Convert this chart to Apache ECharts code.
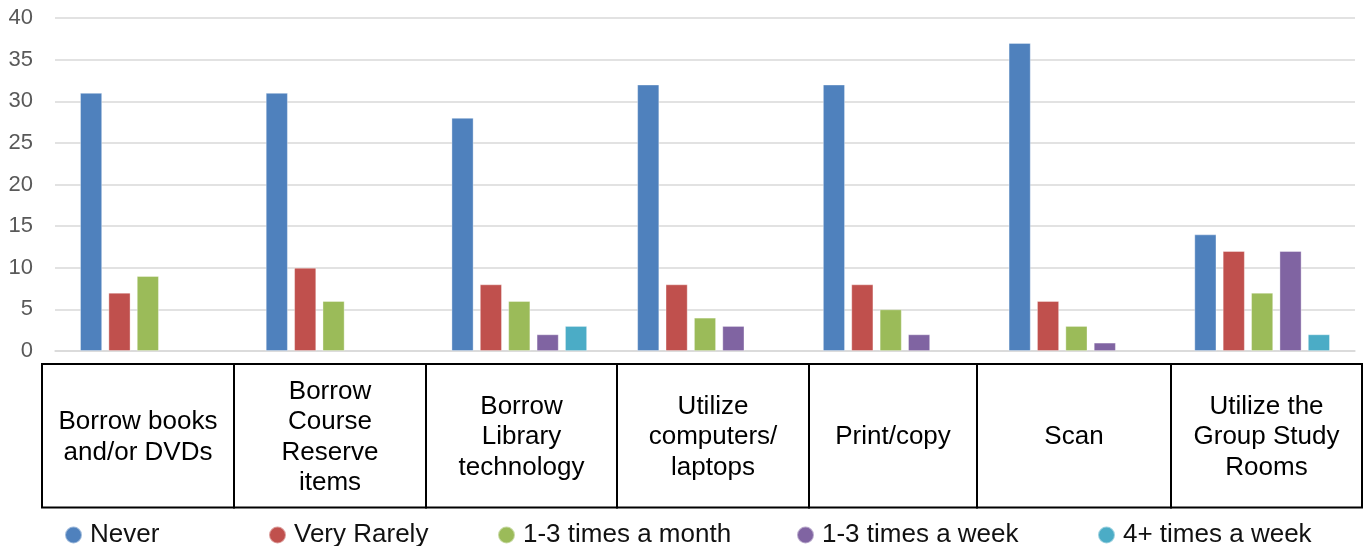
<!DOCTYPE html>
<html>
<head>
<meta charset="utf-8">
<script src="https://cdn.jsdelivr.net/npm/echarts@6/dist/echarts.min.js"></script>
<style>
  html, body { margin: 0; padding: 0; background: #fff; }
  #chart { width: 1370px; height: 546px; }
</style>
</head>
<body>
<div id="chart"></div>
<script>
// Library service usage survey: number of responses per frequency
const categories = [
  'Borrow books\nand/or DVDs',
  'Borrow\nCourse\nReserve\nitems',
  'Borrow\nLibrary\ntechnology',
  'Utilize\ncomputers/\nlaptops',
  'Print/copy',
  'Scan',
  'Utilize the\nGroup Study\nRooms'
];
const seriesNames = ['Never', 'Very Rarely', '1-3 times a month', '1-3 times a week', '4+ times a week'];
const never        = [31, 31, 28, 32, 32, 37, 14];
const veryRarely   = [7, 10, 8, 8, 8, 6, 12];
const timesMonth   = [9, 6, 6, 4, 5, 3, 7];
const timesWeek    = [0, 0, 2, 3, 2, 1, 12];
const fourPlusWeek = [0, 0, 3, 0, 0, 0, 2];
const yTicks = [0, 5, 10, 15, 20, 25, 30, 35, 40];

const seriesData = [never, veryRarely, timesMonth, timesWeek, fourPlusWeek];
const colors = ['#4F81BD', '#C0504D', '#9BBB59', '#8064A2', '#4BACC6'];

// Layout of the category table under the plot
const tableEdges = [42, 234, 426, 617, 809, 977, 1171, 1362];
const tableTop = 364, tableBottom = 507.5;
const legendLefts = [64, 268, 497, 796, 1097];
const FONT = '"Liberation Sans", Arial, sans-serif';

const chart = echarts.init(document.getElementById('chart'), null, { renderer: 'canvas' });

const tableGraphics = [];
categories.forEach((label, i) => {
  const x0 = tableEdges[i], x1 = tableEdges[i + 1];
  tableGraphics.push({
    type: 'rect',
    shape: { x: x0, y: tableTop, width: x1 - x0, height: tableBottom - tableTop },
    style: { fill: 'none', stroke: '#000', lineWidth: 2 },
    silent: true
  });
  tableGraphics.push({
    type: 'text',
    x: (x0 + x1) / 2,
    y: (tableTop + tableBottom) / 2 + 1.5,
    style: {
      text: label,
      font: '26px ' + FONT,
      fill: '#000',
      align: 'center',
      verticalAlign: 'middle',
      lineHeight: 30.5
    },
    silent: true
  });
});

chart.setOption({
  animation: false,
  color: colors,
  grid: { left: 55, right: 15, top: 18, bottom: 195, containLabel: false },
  legend: seriesNames.map((name, i) => ({
    data: [name],
    left: legendLefts[i],
    top: 522,
    padding: 0,
    icon: 'circle',
    itemWidth: 17,
    itemHeight: 17,
    selectedMode: false,
    textStyle: { fontSize: 26, fontFamily: FONT, color: '#111', padding: [0, 0, 0, 3] }
  })),
  xAxis: {
    type: 'category',
    data: categories,
    axisLine: { show: true, lineStyle: { color: '#d9d9d9', width: 1.5 } },
    axisTick: { show: false },
    axisLabel: { show: false }
  },
  yAxis: {
    type: 'value',
    min: yTicks[0],
    max: yTicks[yTicks.length - 1],
    interval: yTicks[1] - yTicks[0],
    axisLine: { show: false },
    axisTick: { show: false },
    axisLabel: { fontSize: 22, fontFamily: FONT, color: '#595959', margin: 22 },
    splitLine: { lineStyle: { color: '#d9d9d9', width: 1.5 } }
  },
  series: seriesNames.map((name, i) => ({
    name: name,
    type: 'bar',
    data: seriesData[i].map(v => (v === 0 ? null : v)),
    barWidth: 22,
    barGap: '29%',
    itemStyle: { color: colors[i], borderColor: 'rgba(255,255,255,0.45)', borderWidth: 0.8 }
  })),
  graphic: tableGraphics
});
</script>
</body>
</html>
